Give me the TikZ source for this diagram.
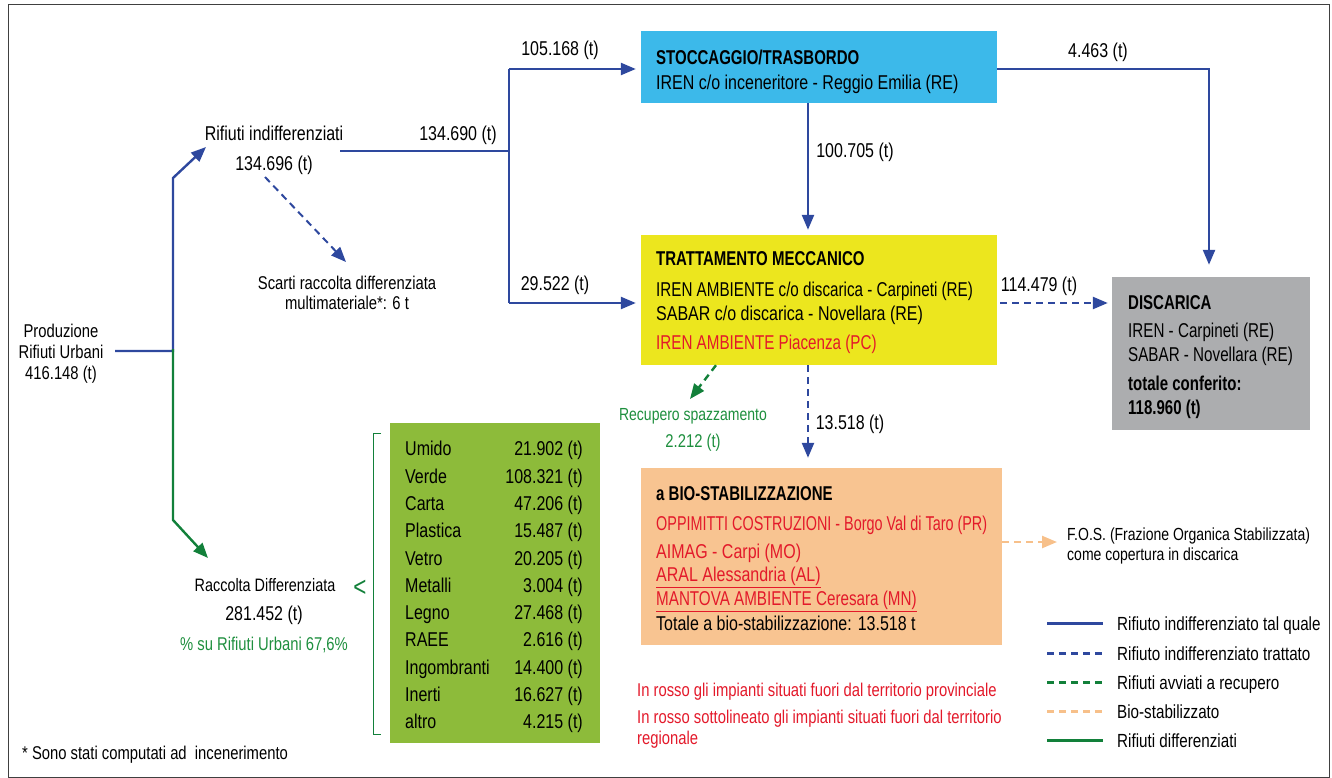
\documentclass[tikz,border=0pt]{standalone}
\usepackage{fontspec}
\setmainfont{Liberation Sans}[FakeStretch=0.8, BoldFeatures={FakeStretch=0.75}]
\newfontfamily\fnB{Liberation Sans}[FakeStretch=0.76]
\newfontfamily\fnA{Liberation Sans}[FakeStretch=0.72]
\usetikzlibrary{arrows.meta,calc}
\definecolor{lblue}{RGB}{46,72,158}
\definecolor{lgreen}{RGB}{18,128,58}
\definecolor{tgreen}{RGB}{30,143,62}
\definecolor{cboxblue}{RGB}{60,185,234}
\definecolor{cboxyellow}{RGB}{236,230,30}
\definecolor{cboxgray}{RGB}{172,173,175}
\definecolor{cboxpeach}{RGB}{248,196,145}
\definecolor{cboxgreen}{RGB}{141,187,58}
\definecolor{tred}{RGB}{227,25,42}
\definecolor{lpeach}{RGB}{247,192,138}
\tikzset{
  every node/.style={font=\fontsize{20}{24}\selectfont, inner sep=0pt},
  txt/.style={anchor=west, text height=16pt, text depth=0.4pt},
  ctxt/.style={anchor=center, text height=16pt, text depth=0.4pt},
  bold/.style={font=\fontsize{20}{24}\selectfont\bfseries},
  narrowB/.style={font=\fontsize{20}{24}\fnB},
  narrowA/.style={font=\fontsize{20}{24}\fnA},
  small/.style={font=\fontsize{18.5}{22}\selectfont},
  smaller/.style={font=\fontsize{17.5}{21}\selectfont},
  leg/.style={font=\fontsize{19}{22}\selectfont},
  flow/.style={draw=lblue, line width=2.4pt},
  flowarr/.style={flow, -{Triangle[length=15pt,width=12pt]}},
  dflow/.style={draw=lblue, line width=2.4pt, dash pattern=on 7pt off 5pt, -{Triangle[length=15pt,width=12pt]}},
  gflow/.style={draw=lgreen, line width=2.4pt},
  gdflow/.style={draw=lgreen, line width=2.4pt, dash pattern=on 7pt off 5pt, -{Triangle[length=15pt,width=12pt]}},
  pdflow/.style={draw=lpeach, line width=2.4pt, dash pattern=on 7pt off 5pt, -{Triangle[length=15pt,width=12pt]}},
  legline/.style={line width=3pt}
}
\begin{document}
\begin{tikzpicture}[x=1pt,y=-1pt]
\useasboundingbox (0,0) rectangle (1332,778);
\draw[black!75, line width=1pt] (8,5) rectangle (1329,777);

% boxes
\node[fill=cboxblue, minimum width=356pt, minimum height=72pt] (stock) at (819,67) {};
\node[fill=cboxyellow, minimum width=356pt, minimum height=130pt] (treat) at (819,300) {};
\node[fill=cboxgray, minimum width=198pt, minimum height=153pt] (disc) at (1211,353.5) {};
\node[fill=cboxpeach, minimum width=361pt, minimum height=177pt] (bio) at (821.5,556.5) {};
\node[fill=cboxgreen, minimum width=210pt, minimum height=320pt] (gbox) at (495,583) {};

% box texts
\node[txt, bold] (st1) at (656,57) {STOCCAGGIO/TRASBORDO};
\node[txt] (st2) at (656,82) {IREN c/o inceneritore - Reggio Emilia (RE)};

\node[txt, bold] (tr1) at (656,258) {TRATTAMENTO MECCANICO};
\node[txt, narrowB] (tr2) at (656,289) {IREN AMBIENTE c/o discarica - Carpineti (RE)};
\node[txt] (tr3) at (656,313) {SABAR c/o discarica - Novellara (RE)};
\node[txt, narrowB, text=tred] (tr4) at (656,342) {IREN AMBIENTE Piacenza (PC)};

\node[txt, bold] (di1) at (1128,302) {DISCARICA};
\node[txt, narrowB] (di2) at (1128,330) {IREN - Carpineti (RE)};
\node[txt, narrowB] (di3) at (1128,354) {SABAR - Novellara (RE)};
\node[txt, bold] (di4) at (1128,383) {totale conferito:};
\node[txt, bold] (di5) at (1128,407) {118.960 (t)};

\node[txt, bold] (bi1) at (656,493) {a BIO-STABILIZZAZIONE};
\node[txt, narrowA, text=tred] (bi2) at (656,523) {OPPIMITTI COSTRUZIONI - Borgo Val di Taro (PR)};
\node[txt, text=tred] (bi3) at (656,551) {AIMAG - Carpi (MO)};
\node[txt, text=tred] (bi4) at (656,574) {\underline{ARAL Alessandria (AL)}};
\node[txt, narrowB, text=tred] (bi5) at (656,598) {\underline{MANTOVA AMBIENTE Ceresara (MN)}};
\node[txt] (bi6) at (656,623) {Totale a bio-stabilizzazione: 13.518 t};

% green box list
\foreach \n/\lab/\val [count=\i from 0] in {a/Umido/21.902, b/Verde/108.321, c/Carta/47.206, d/Plastica/15.487, e/Vetro/20.205, f/Metalli/3.004, g/Legno/27.468, h/RAEE/2.616, i/Ingombranti/14.400, j/Inerti/16.627, k/altro/4.215}{
  \node[txt] (gl\n) at (405,{448+27.3*\i}) {\lab};
  \node[anchor=east, text height=16pt, text depth=0.4pt] (gv\n) at (583,{448+27.3*\i}) {\val{} (t)};
}
\draw[lgreen, line width=1pt] (381,433) -- (373,433) -- (373,734) -- (381,734);
\node[text=lgreen, font=\fontsize{28}{28}\selectfont] (lt) at (360,588) {<};

% free texts
\node[ctxt, small] (prod1) at (61,330) {Produzione};
\node[ctxt, small] (prod2) at (61,351) {Rifiuti Urbani};
\node[ctxt, small] (prod3) at (61,372) {416.148 (t)};
\node[ctxt] (rind) at (274,133) {Rifiuti indifferenziati};
\node[ctxt] (rindv) at (274,163) {134.696 (t)};
\node[ctxt, small] (scarti1) at (347,282) {Scarti raccolta differenziata};
\node[ctxt, small] (scarti2) at (347,302) {multimateriale*: 6 t};
\node[ctxt, font=\fontsize{18}{22}\selectfont] (racc) at (265,584) {Raccolta Differenziata};
\node[ctxt] (raccv) at (264,613) {281.452 (t)};
\node[ctxt, text=tgreen, small] (raccp) at (264,643) {\% su Rifiuti Urbani 67,6\%};
\node[ctxt, text=tgreen, smaller] (recup1) at (693,413) {Recupero spazzamento};
\node[ctxt, text=tgreen, small] (recup2) at (693,440) {2.212 (t)};
\node[txt, smaller] (fos1) at (1067,533) {F.O.S. (Frazione Organica Stabilizzata)};
\node[txt, smaller] (fos2) at (1067,553) {come copertura in discarica};
\node[txt, text=tred, small] (note1) at (637,689) {In rosso gli impianti situati fuori dal territorio provinciale};
\node[txt, text=tred, small] (note2) at (637,716) {In rosso sottolineato gli impianti situati fuori dal territorio};
\node[txt, text=tred, small] (note3) at (637,737) {regionale};
\node[txt, small] (foot) at (22,752) {* Sono stati computati ad\ \ incenerimento};

% flow labels
\node[ctxt] (l1) at (560,48) {105.168 (t)};
\node[ctxt] (l2) at (458,133) {134.690 (t)};
\node[ctxt] (l3) at (555,283) {29.522 (t)};
\node[ctxt] (l4) at (855,150) {100.705 (t)};
\node[ctxt] (l5) at (1098,50) {4.463 (t)};
\node[ctxt] (l6) at (1039,284) {114.479 (t)};
\node[ctxt] (l7) at (850,422) {13.518 (t)};

% coordinates
\coordinate (p0) at (115,351);
\coordinate (p1) at (173,351);
\coordinate (p2) at (173,178);
\coordinate (p3) at (206,147);
\coordinate (g2) at (173,520);
\coordinate (g3) at (208,558);
\coordinate (j0) at (340,151);
\coordinate (j1) at (509,151);
\coordinate (j2) at (509,69);
\coordinate (j3) at (509,303);
\coordinate (k1) at (1209,69);
\coordinate (sc1) at (265,177);
\coordinate (sc2) at (346,262);
\coordinate (rc) at (690,399);

% flows
\draw[flowarr] (p0) -- (p1) -- (p2) -- (p3);
\draw[gflow, -{Triangle[length=15pt,width=12pt]}] ([yshift=2pt]p1) -- (g2) -- (g3);
\draw[flow] (j0) -- (j1);
\draw[flow] (j2) -- (j3);
\draw[flowarr, shorten >=5pt] (j2) -- (stock.west |- j2);
\draw[flowarr, shorten >=5pt] (j3) -- (treat.west |- j3);
\draw[flow, -{Triangle[length=15pt,width=12pt]}, shorten >=12pt] (stock.east |- k1) -- (k1) -- (disc.north -| k1);
\draw[flowarr, shorten >=5pt] ([xshift=-11pt]stock.south) -- ([xshift=-11pt]treat.north);
\draw[dflow, shorten >=4pt] ([xshift=3pt]treat.east |- 0,303) -- (disc.west |- 0,303);
\draw[gdflow] ([xshift=-103pt]treat.south) -- (rc);
\draw[dflow, shorten >=10pt] ([xshift=-11pt]treat.south) -- ([xshift=-13.5pt]bio.north);
\draw[pdflow] (bio.east |- 0,542) -- ([xshift=-10pt]fos1.west |- 0,542);
\draw[dflow, line width=2pt] (sc1) -- (sc2);

% legend
\coordinate (lg1) at (1047,623);
\coordinate (lg2) at (1047,653);
\coordinate (lg3) at (1047,682);
\coordinate (lg4) at (1047,711);
\coordinate (lg5) at (1047,740);
\node[txt, leg] (le1) at (1117,623) {Rifiuto indifferenziato tal quale};
\node[txt, leg] (le2) at (1117,653) {Rifiuto indifferenziato trattato};
\node[txt, leg] (le3) at (1117,682) {Rifiuti avviati a recupero};
\node[txt, leg] (le4) at (1117,711) {Bio-stabilizzato};
\node[txt, leg] (le5) at (1117,740) {Rifiuti differenziati};
\draw[legline, lblue] (lg1) -- ([xshift=-14pt]le1.west);
\draw[legline, lblue, dash pattern=on 7pt off 5pt] (lg2) -- ([xshift=-14pt]le2.west);
\draw[legline, lgreen, dash pattern=on 7pt off 5pt] (lg3) -- ([xshift=-14pt]le3.west);
\draw[legline, lpeach, dash pattern=on 7pt off 5pt] (lg4) -- ([xshift=-14pt]le4.west);
\draw[legline, lgreen] (lg5) -- ([xshift=-14pt]le5.west);
\end{tikzpicture}
\end{document}
